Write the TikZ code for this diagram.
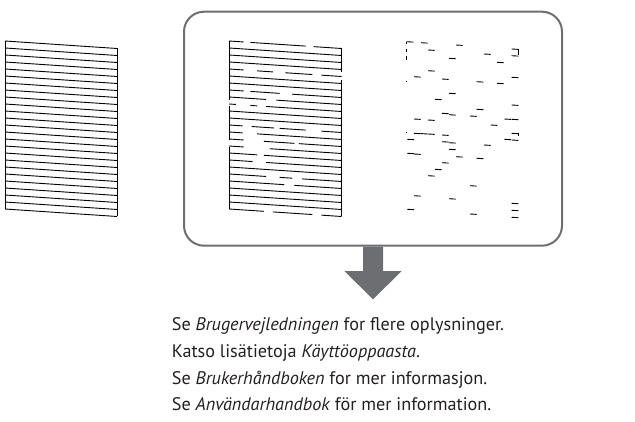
\documentclass[tikz,border=0pt]{standalone}
\usepackage{fontspec}
\setmainfont{PT Sans}
\definecolor{epgrey}{HTML}{6D6E71}
\definecolor{textblack}{HTML}{231F20}
\begin{document}
\begin{tikzpicture}[x=1pt,y=-1pt,
  patline/.style={line width=0.9pt, black},
  txt/.style={anchor=base west, inner sep=0pt, font=\fontsize{18.2}{21}\selectfont, text=textblack}]
\useasboundingbox (0,0) rectangle (635,422);

% ---------- left pattern (all nozzles OK)
\foreach \i in {0,...,24} {
  \draw[patline] (5,{41+7*\i}) -- (117,{48.5+7*\i});
}
\draw[patline] (5,41) -- (5,209);
\draw[patline] (117,48.5) -- (117,216.5);

% ---------- rounded frame
\node[draw=epgrey, line width=2pt, rounded corners=20pt, minimum width=378pt,
      minimum height=234pt, inner sep=0pt] (box) at (373,128.7) {};

% ---------- middle pattern (with gaps)
\foreach \i/\segs in {
  0/{0/0.13,0.19/0.68,0.75/1},
  1/{0/1},
  2/{0/1},
  3/{0/1},
  4/{0/0.13,0.25/0.39,0.50/0.74,0.82/1},
  5/{0/1},
  6/{0/1},
  7/{0/0.13,0.19/0.45,0.56/1},
  8/{0/0.33,0.42/1},
  9/{0/0.06,0.19/0.25,0.33/1},
  10/{0/1},
  11/{0/1},
  12/{0/0.12,0.20/0.40,0.45/0.68,0.82/1},
  13/{0/0.12,0.25/1},
  14/{0/0.13,0.31/0.58,0.62/1},
  15/{0/0.13,0.36/1},
  16/{0/0.25,0.31/1},
  17/{0/0.21,0.33/1},
  18/{0/1},
  19/{0/0.33,0.45/0.56,0.65/1},
  20/{0/0.49,0.58/1},
  21/{0/1},
  22/{0/1},
  23/{0/1},
  24/{0/0.31,0.39/0.74,0.82/1}} {
  \foreach \a/\b in \segs {
    \draw[patline] ({229+112.7*\a},{41+7*\i+7.5*\a}) -- ({229+112.7*\b},{41+7*\i+7.5*\b});
  }
}
\draw[patline] (229,41) -- (229,100);
\draw[patline] (229,106) -- (229,140);
\draw[patline] (229,147) -- (229,209);
\draw[patline] (341.7,48.5) -- (341.7,72);
\draw[patline] (341.7,80) -- (341.7,216.5);

% ---------- right pattern (staircase dashes)
\foreach \x/\y in {
  406.7/41.7, 421/42.7, 456/45, 428/50, 511.7/49, 511.7/55.7, 484/54,
  449/58.3, 497/62.3, 428/70.7, 414/76.7, 442/79, 476.7/81.7, 497/83.3,
  511.7/77.3, 449/93.3, 435/99.3, 511.7/105, 476.7/109.3, 442/113.3,
  449/114.7, 470/116, 414/119, 428/120, 504.3/119, 511.7/119.3, 490.7/125,
  414/133.3, 421/133.6, 428/134, 442/135, 511.7/133.3, 407.3/139.3,
  442/141.7, 449/142.7, 504.3/139.3, 511.7/140, 484/145, 449/149.3,
  407.3/153.3, 414/154, 456/156.7, 476.7/158.3, 442/162.7, 435/169.3,
  428/175.7, 470/185.7, 414/195.7, 449/198.7, 511.7/203.3, 407.3/209.3,
  511.7/210.3, 470/214, 511.7/217.3} {
  \draw[patline] (\x,\y) -- ({\x+6.7},{\y+0.4});
}
\draw[patline] (406.7,41.7) -- (406.7,44.5);
\draw[patline] (406.7,49) -- (406.7,52);
\draw[patline] (406.7,56) -- (406.7,60);
\draw[patline] (406.7,81) -- (406.7,82.5);
\draw[patline] (406.7,132) -- (406.7,133.5);
\draw[patline] (518.4,49) -- (518.4,55);
\draw[patline] (518.4,133.3) -- (518.4,135.8);

% ---------- down arrow
\fill[epgrey] ([xshift=-10pt]box.south) -- ([xshift=10pt]box.south)
  -- ++(0,24.5) -- ++(18.5,0) -- ++(-28.5,28.1) -- ++(-28.5,-28.1)
  -- ++(18.5,0) -- cycle;

% ---------- text
\node[txt] (l1) at (171.7,330.7) {Se \textit{Brugervejledningen} for flere oplysninger.};
\node[txt] (l2) at (171.7,357.7) {Katso lisätietoja \textit{Käyttöoppaasta}.};
\node[txt] (l3) at (171.7,384.2) {Se \textit{Brukerhåndboken} for mer informasjon.};
\node[txt] (l4) at (171.7,410.7) {Se \textit{Användarhandbok} för mer information.};
\end{tikzpicture}
\end{document}
